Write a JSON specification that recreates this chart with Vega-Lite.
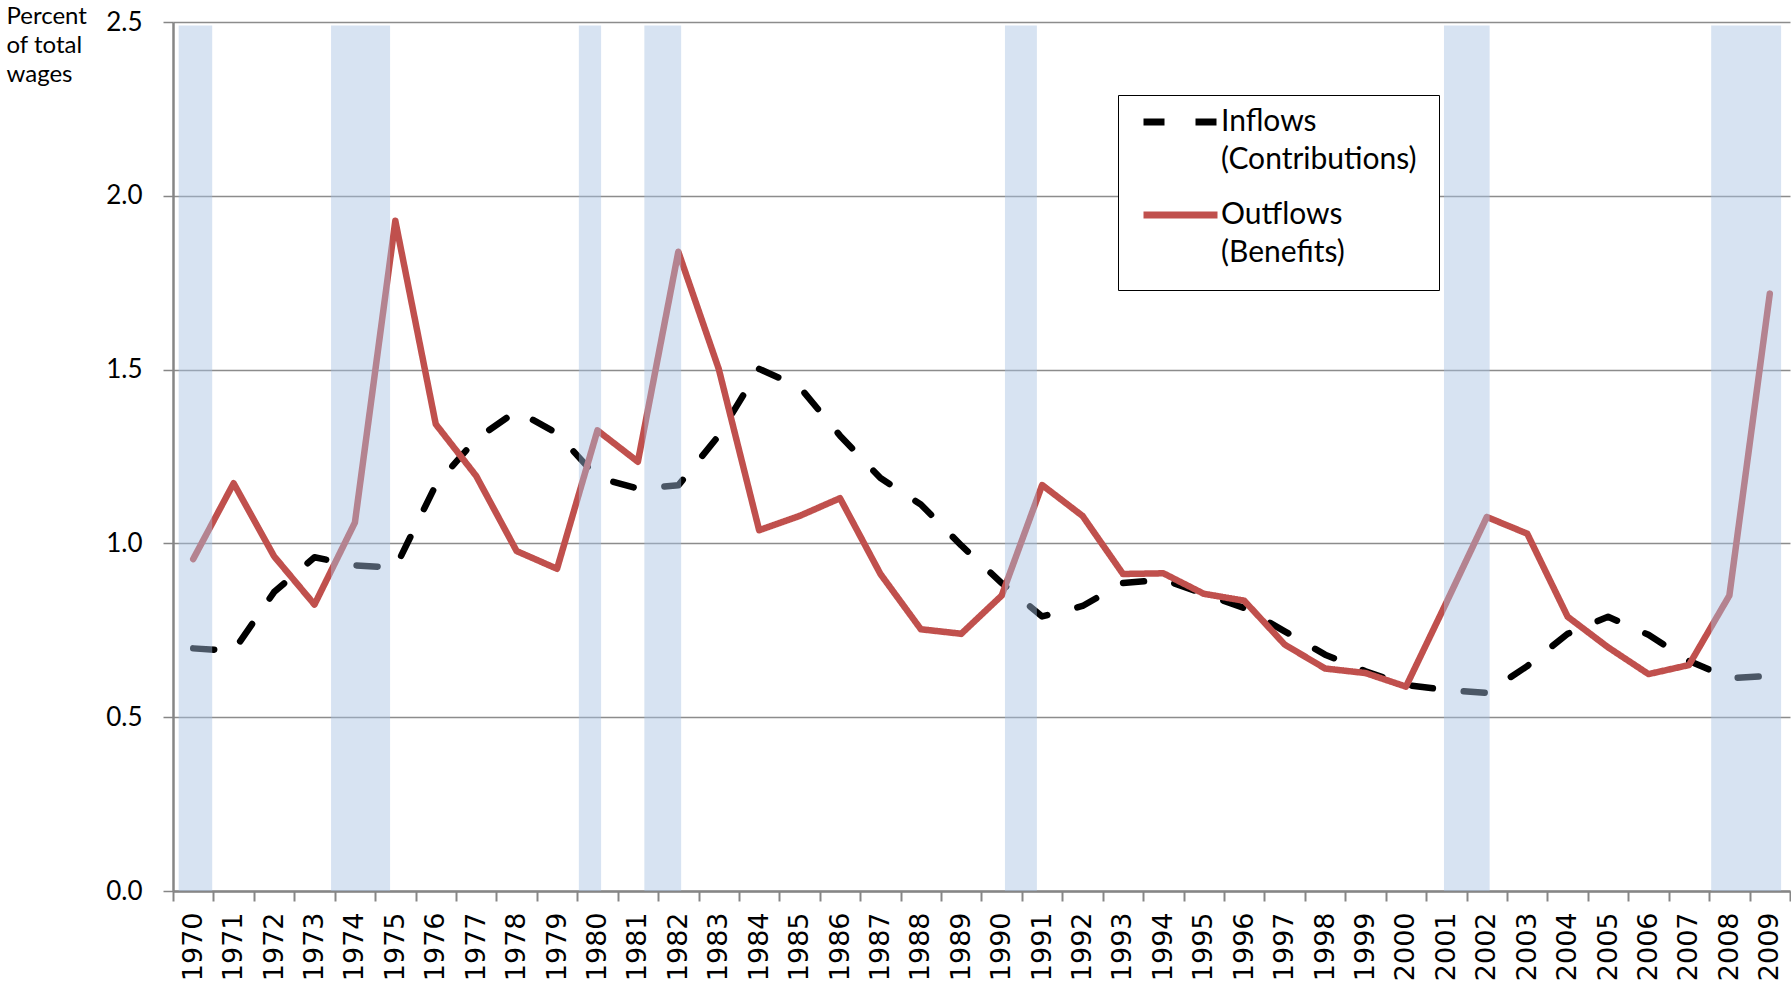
{
  "$schema": "https://vega.github.io/schema/vega-lite/v6.json",
  "autosize": {"type": "none"},
  "padding": {"left": 173, "top": 22, "right": 1, "bottom": 91},
  "width": 1617,
  "height": 869,
  "background": "white",
  "config": {"view": {"stroke": null}, "style": {"guide-label": {"lineHeight": 38}}},
  "datasets": {
    "flows": [
      {"year": 1970, "series": "Inflows", "value": 0.698},
      {"year": 1971, "series": "Inflows", "value": 0.691},
      {"year": 1972, "series": "Inflows", "value": 0.86},
      {"year": 1973, "series": "Inflows", "value": 0.96},
      {"year": 1974, "series": "Inflows", "value": 0.937},
      {"year": 1975, "series": "Inflows", "value": 0.93},
      {"year": 1976, "series": "Inflows", "value": 1.168},
      {"year": 1977, "series": "Inflows", "value": 1.30},
      {"year": 1978, "series": "Inflows", "value": 1.381},
      {"year": 1979, "series": "Inflows", "value": 1.317},
      {"year": 1980, "series": "Inflows", "value": 1.189},
      {"year": 1981, "series": "Inflows", "value": 1.158},
      {"year": 1982, "series": "Inflows", "value": 1.167},
      {"year": 1983, "series": "Inflows", "value": 1.31},
      {"year": 1984, "series": "Inflows", "value": 1.502},
      {"year": 1985, "series": "Inflows", "value": 1.45},
      {"year": 1986, "series": "Inflows", "value": 1.31},
      {"year": 1987, "series": "Inflows", "value": 1.188},
      {"year": 1988, "series": "Inflows", "value": 1.112},
      {"year": 1989, "series": "Inflows", "value": 0.994},
      {"year": 1990, "series": "Inflows", "value": 0.886},
      {"year": 1991, "series": "Inflows", "value": 0.79},
      {"year": 1992, "series": "Inflows", "value": 0.82},
      {"year": 1993, "series": "Inflows", "value": 0.886},
      {"year": 1994, "series": "Inflows", "value": 0.896},
      {"year": 1995, "series": "Inflows", "value": 0.855},
      {"year": 1996, "series": "Inflows", "value": 0.814},
      {"year": 1997, "series": "Inflows", "value": 0.747},
      {"year": 1998, "series": "Inflows", "value": 0.68},
      {"year": 1999, "series": "Inflows", "value": 0.632},
      {"year": 2000, "series": "Inflows", "value": 0.593},
      {"year": 2001, "series": "Inflows", "value": 0.578},
      {"year": 2002, "series": "Inflows", "value": 0.57},
      {"year": 2003, "series": "Inflows", "value": 0.647},
      {"year": 2004, "series": "Inflows", "value": 0.74},
      {"year": 2005, "series": "Inflows", "value": 0.789},
      {"year": 2006, "series": "Inflows", "value": 0.737},
      {"year": 2007, "series": "Inflows", "value": 0.662},
      {"year": 2008, "series": "Inflows", "value": 0.612},
      {"year": 2009, "series": "Inflows", "value": 0.619},
      {"year": 1970, "series": "Outflows", "value": 0.955},
      {"year": 1971, "series": "Outflows", "value": 1.173},
      {"year": 1972, "series": "Outflows", "value": 0.963},
      {"year": 1973, "series": "Outflows", "value": 0.824},
      {"year": 1974, "series": "Outflows", "value": 1.06},
      {"year": 1975, "series": "Outflows", "value": 1.928},
      {"year": 1976, "series": "Outflows", "value": 1.343},
      {"year": 1977, "series": "Outflows", "value": 1.194},
      {"year": 1978, "series": "Outflows", "value": 0.978},
      {"year": 1979, "series": "Outflows", "value": 0.927},
      {"year": 1980, "series": "Outflows", "value": 1.325},
      {"year": 1981, "series": "Outflows", "value": 1.235},
      {"year": 1982, "series": "Outflows", "value": 1.839},
      {"year": 1983, "series": "Outflows", "value": 1.502},
      {"year": 1984, "series": "Outflows", "value": 1.038},
      {"year": 1985, "series": "Outflows", "value": 1.079},
      {"year": 1986, "series": "Outflows", "value": 1.13},
      {"year": 1987, "series": "Outflows", "value": 0.912},
      {"year": 1988, "series": "Outflows", "value": 0.753},
      {"year": 1989, "series": "Outflows", "value": 0.74},
      {"year": 1990, "series": "Outflows", "value": 0.85},
      {"year": 1991, "series": "Outflows", "value": 1.168},
      {"year": 1992, "series": "Outflows", "value": 1.079},
      {"year": 1993, "series": "Outflows", "value": 0.912},
      {"year": 1994, "series": "Outflows", "value": 0.914},
      {"year": 1995, "series": "Outflows", "value": 0.855},
      {"year": 1996, "series": "Outflows", "value": 0.835},
      {"year": 1997, "series": "Outflows", "value": 0.709},
      {"year": 1998, "series": "Outflows", "value": 0.64},
      {"year": 1999, "series": "Outflows", "value": 0.627},
      {"year": 2000, "series": "Outflows", "value": 0.588},
      {"year": 2001, "series": "Outflows", "value": 0.83},
      {"year": 2002, "series": "Outflows", "value": 1.076},
      {"year": 2003, "series": "Outflows", "value": 1.028},
      {"year": 2004, "series": "Outflows", "value": 0.789},
      {"year": 2005, "series": "Outflows", "value": 0.701},
      {"year": 2006, "series": "Outflows", "value": 0.624},
      {"year": 2007, "series": "Outflows", "value": 0.65},
      {"year": 2008, "series": "Outflows", "value": 0.85},
      {"year": 2009, "series": "Outflows", "value": 1.718}
    ],
    "recessions": [
      {"start": 1970.14, "end": 1970.97},
      {"start": 1973.91, "end": 1975.37},
      {"start": 1980.04, "end": 1980.59},
      {"start": 1981.66, "end": 1982.57},
      {"start": 1990.58, "end": 1991.37},
      {"start": 2001.44, "end": 2002.57},
      {"start": 2008.05, "end": 2009.78}
    ]
  },
  "layer": [
    {
      "data": {"name": "flows"},
      "mark": {"type": "line", "strokeWidth": 6.5, "strokeCap": "round", "strokeJoin": "round"},
      "encoding": {
        "x": {
          "field": "year",
          "type": "ordinal",
          "bandPosition": 0.5,
          "scale": {"type": "band", "paddingInner": 0, "paddingOuter": 0},
          "axis": {
            "title": null,
            "tickBand": "extent",
            "labelAngle": -90,
            "labelFont": "DejaVu Sans",
            "labelFontSize": 27,
            "labelColor": "black",
            "labelPadding": 11,
            "tickSize": 10,
            "tickColor": "#868686",
            "tickWidth": 2,
            "domainColor": "#868686",
            "domainWidth": 2.5,
            "grid": false
          }
        },
        "y": {
          "field": "value",
          "type": "quantitative",
          "scale": {"domain": [0, 2.5], "nice": false, "zero": true},
          "axis": {
            "values": [0, 0.5, 1, 1.5, 2, 2.5],
            "format": ".1f",
            "grid": true,
            "gridColor": "#8c8c8c",
            "gridWidth": 1.5,
            "domainColor": "#868686",
            "domainWidth": 2.5,
            "tickColor": "#868686",
            "tickWidth": 1.5,
            "tickSize": 10,
            "labelFont": "Lato",
            "labelFontSize": 26,
            "labelColor": "black",
            "labelPadding": 21,
            "title": ["Percent", "of total", "wages"],
            "titleAngle": 0,
            "titleAlign": "left",
            "titleBaseline": "alphabetic",
            "titleX": -167,
            "titleY": 1,
            "titleFont": "Lato",
            "titleFontSize": 24,
            "titleFontWeight": "normal",
            "titleLineHeight": 29,
            "titleColor": "black"
          }
        },
        "color": {
          "field": "series",
          "type": "nominal",
          "scale": {"domain": ["Inflows", "Outflows"], "range": ["#000000", "#c0504d"]},
          "legend": {
            "title": null,
            "orient": "none",
            "legendX": 945,
            "legendY": 73,
            "direction": "vertical",
            "symbolType": "stroke",
            "symbolSize": 5476,
            "symbolStrokeWidth": 7,
            "clipHeight": 10,
            "labelFont": "Lato",
            "labelFontSize": 30,
            "labelBaseline": "middle",
            "labelColor": "black",
            "labelLimit": 0,
            "labelOffset": 0,
            "labelExpr": "datum.label == 'Inflows' ? ['Inflows', '(Contributions)'] : ['Outflows', '(Benefits)']",
            "strokeColor": "black",
            "fillColor": "white",
            "padding": 22,
            "rowPadding": 25
          }
        },
        "strokeDash": {
          "field": "series",
          "type": "nominal",
          "scale": {"domain": ["Inflows", "Outflows"], "range": [[21, 31], [1, 0]]},
          "legend": {
            "title": null,
            "orient": "none",
            "legendX": 945,
            "legendY": 73,
            "direction": "vertical",
            "symbolType": "stroke",
            "symbolSize": 5476,
            "symbolStrokeWidth": 7,
            "clipHeight": 10,
            "labelFont": "Lato",
            "labelFontSize": 30,
            "labelBaseline": "middle",
            "labelColor": "black",
            "labelLimit": 0,
            "labelOffset": 0,
            "labelExpr": "datum.label == 'Inflows' ? ['Inflows', '(Contributions)'] : ['Outflows', '(Benefits)']",
            "strokeColor": "black",
            "fillColor": "white",
            "padding": 22,
            "rowPadding": 25
          }
        }
      }
    },
    {
      "data": {"name": "recessions"},
      "mark": {"type": "rect", "fill": "#a6c0e3", "opacity": 0.45},
      "encoding": {
        "x": {"field": "start", "type": "quantitative", "scale": {"domain": [1970, 2010], "nice": false, "zero": false}, "axis": null},
        "x2": {"field": "end"},
        "y": {"datum": 0, "type": "quantitative"},
        "y2": {"datum": 2.49}
      }
    }
  ],
  "resolve": {"scale": {"x": "independent"}}
}
